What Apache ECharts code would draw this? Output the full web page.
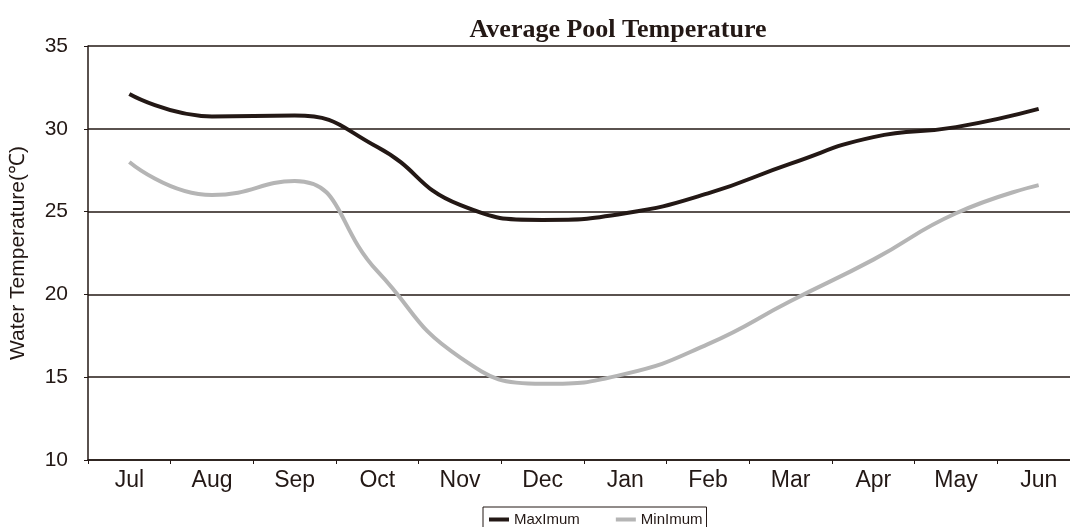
<!DOCTYPE html>
<html>
<head>
<meta charset="utf-8">
<script src="https://cdn.jsdelivr.net/npm/echarts@6/dist/echarts.min.js"></script>
<style>
html, body { margin: 0; padding: 0; background: #fff; }
#main { width: 1070px; height: 527px; }
</style>
</head>
<body>
<div id="main"></div>
<script>
var months = ['Jul', 'Aug', 'Sep', 'Oct', 'Nov', 'Dec', 'Jan', 'Feb', 'Mar', 'Apr', 'May', 'Jun'];
var maximum = [32.1, 30.75, 30.8, 28.9, 25.4, 24.5, 24.9, 26.1, 27.9, 29.5, 30.1, 31.2];
var minimum = [28.0, 26.0, 26.85, 21.4, 16.2, 14.6, 15.2, 17.0, 19.6, 22.1, 24.9, 26.6];

var ink = '#231815';

var chart = echarts.init(document.getElementById('main'));
chart.setOption({
	animation: false,
	title: {
		text: 'Average Pool Temperature',
		left: 613,
		top: 12,
		textAlign: 'center',
		textStyle: {
			fontFamily: 'Liberation Serif',
			fontSize: 26,
			fontWeight: 'bold',
			color: ink
		}
	},
	legend: {
		left: 483,
		top: 507,
		icon: 'rect',
		itemWidth: 20,
		itemHeight: 4,
		itemGap: 36,
		borderColor: ink,
		borderWidth: 1,
		borderRadius: 0,
		padding: [5, 4, 8, 6],
		textStyle: {
			fontFamily: 'Liberation Sans',
			fontSize: 15,
			color: ink
		},
		data: ['MaxImum', 'MinImum']
	},
	grid: {
		left: 88,
		top: 46,
		width: 992,
		height: 414,
		outerBoundsMode: 'none'
	},
	xAxis: {
		type: 'category',
		data: months,
		boundaryGap: true,
		axisLine: { lineStyle: { color: ink, width: 1.5 } },
		axisTick: { show: true, length: 4, lineStyle: { color: ink } },
		axisLabel: {
			fontFamily: 'Liberation Sans',
			fontSize: 23,
			color: ink,
			margin: 9
		}
	},
	yAxis: {
		type: 'value',
		min: 10,
		max: 35,
		interval: 5,
		name: 'Water Temperature(℃)',
		nameLocation: 'middle',
		nameGap: 59,
		nameTextStyle: {
			fontFamily: 'Liberation Sans',
			fontSize: 21,
			color: ink
		},
		axisLine: { show: true, lineStyle: { color: ink, width: 1.5 } },
		axisTick: { show: true, length: 4, lineStyle: { color: ink } },
		axisLabel: {
			fontFamily: 'Liberation Sans',
			fontSize: 21,
			color: ink,
			margin: 20
		},
		splitLine: { show: true, lineStyle: { color: ink, width: 1.5 } }
	},
	series: [{
		name: 'MaxImum',
		type: 'line',
		smooth: 0.5,
		symbol: 'none',
		data: maximum,
		itemStyle: { color: ink },
		lineStyle: { color: ink, width: 4 }
	}, {
		name: 'MinImum',
		type: 'line',
		smooth: 0.5,
		symbol: 'none',
		data: minimum,
		itemStyle: { color: '#b5b5b5' },
		lineStyle: { color: '#b5b5b5', width: 4 }
	}]
});
</script>
</body>
</html>
